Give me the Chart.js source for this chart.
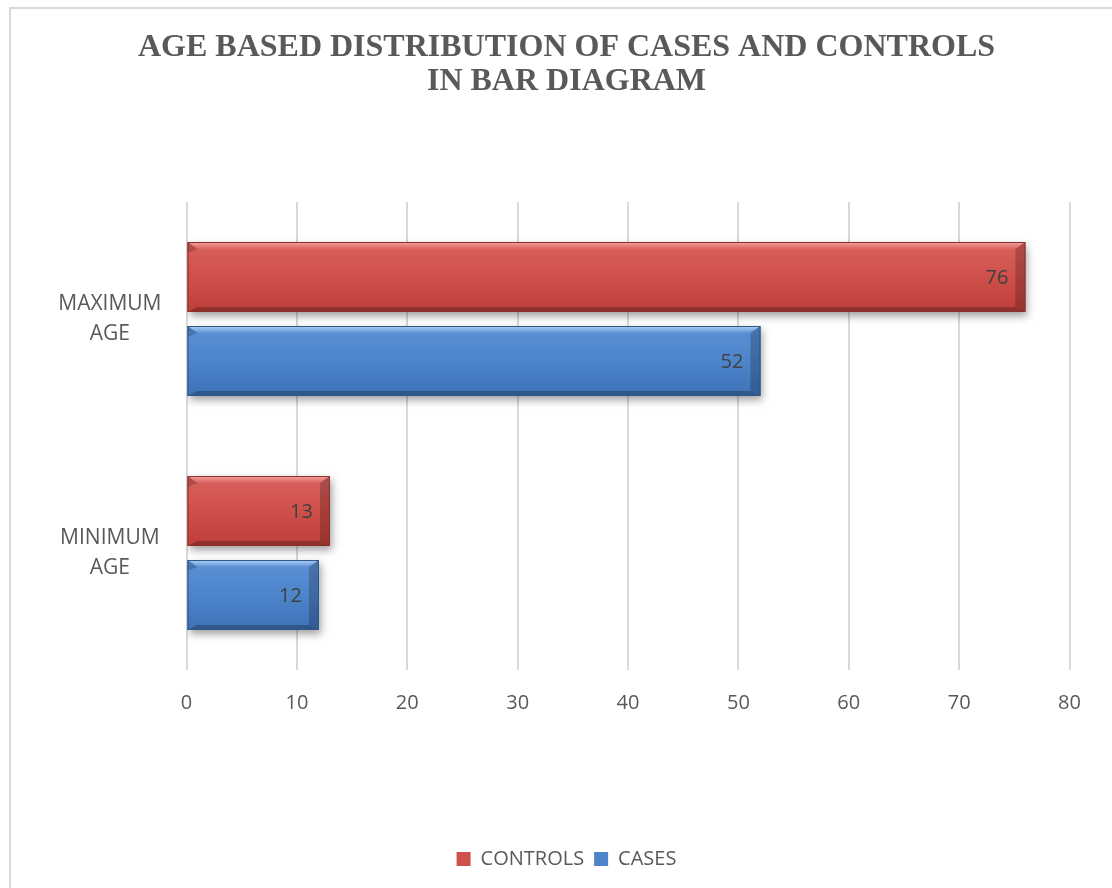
<!DOCTYPE html>
<html>
<head>
<meta charset="utf-8">
<title>Age based distribution</title>
<script src="https://cdn.jsdelivr.net/npm/chart.js@4.4.1/dist/chart.umd.min.js"></script>
<style>
    html, body { margin: 0; padding: 0; background: #fff; overflow: hidden; }
    #box {
        position: absolute;
        left: 9px;
        top: 7px;
        width: 1101px;
        height: 879px;
        border-left: 2px solid #d9d9d9;
        border-top: 2px solid #d9d9d9;
    }
</style>
</head>
<body>
<div id="box"><canvas id="ageChart" width="1101" height="879"></canvas></div>

<script>
// categories (top to bottom) and values
const categories = [['MAXIMUM', 'AGE'], ['MINIMUM', 'AGE']];
const controls = [76, 13];
const cases = [52, 12];
const seriesNames = ['CONTROLS', 'CASES'];
const axisMin = 0;
const axisMax = 80;
const axisStep = 10;

// colours for each series: light top, body, dark bottom
var shades = [
    { light: '#f7a3a0', top: '#d9625e', mid: '#cf4f4a', bottom: '#bd3f3a', edge: '#8c302d' },
    { light: '#b0d3f7', top: '#5c91d5', mid: '#4d84ca', bottom: '#3e72b7', edge: '#2f5688' }
];

var textGray = '#595959';
var sans = '"Open Sans", sans-serif';

// bevelled bars with a soft shadow and the value at the inner end
var bevelBars = {
    id: 'bevelBars',
    beforeDatasetsDraw: function(chart) {
        var ctx = chart.ctx;
        ctx.save();
        ctx.shadowColor = 'rgba(0,0,0,0.38)';
        ctx.shadowBlur = 8;
        ctx.shadowOffsetX = 2;
        ctx.shadowOffsetY = 4;
    },
    afterDatasetsDraw: function(chart) {
        var ctx = chart.ctx;
        ctx.restore();

        chart.data.datasets.forEach(function(ds, i) {
            var meta = chart.getDatasetMeta(i);
            var c = shades[i];
            meta.data.forEach(function(el, j) {
                var p = el.getProps(['x', 'y', 'base', 'height'], true);
                var x0 = Math.min(p.base, p.x), x1 = Math.max(p.base, p.x);
                var y0 = p.y - p.height / 2, y1 = p.y + p.height / 2;
                var bt = 7, bb = 5, bs = 10;

                var g = ctx.createLinearGradient(0, y0, 0, y1);
                g.addColorStop(0, c.top);
                g.addColorStop(0.5, c.mid);
                g.addColorStop(1, c.bottom);
                ctx.fillStyle = g;
                ctx.fillRect(x0, y0, x1 - x0, y1 - y0);

                // top face
                var gt = ctx.createLinearGradient(0, y0, 0, y0 + bt);
                gt.addColorStop(0, c.light);
                gt.addColorStop(1, c.top);
                ctx.fillStyle = gt;
                poly(ctx, [[x0, y0], [x1, y0], [x1 - bs, y0 + bt], [x0 + bs, y0 + bt]]);

                // bottom face
                ctx.fillStyle = 'rgba(0,0,0,0.25)';
                poly(ctx, [[x0, y1], [x1, y1], [x1 - bs, y1 - bb], [x0 + bs, y1 - bb]]);

                // right face
                ctx.fillStyle = 'rgba(0,0,0,0.2)';
                poly(ctx, [[x1, y0], [x1, y1], [x1 - bs, y1 - bb], [x1 - bs, y0 + bt]]);

                // left face, only the corner shows
                ctx.fillStyle = 'rgba(0,0,0,0.18)';
                poly(ctx, [[x0, y0], [x0, y0 + bt + 4], [x0 + bs, y0 + bt]]);

                // outline
                ctx.strokeStyle = c.edge;
                ctx.lineWidth = 1;
                ctx.strokeRect(x0 + 0.5, y0 + 0.5, x1 - x0 - 1, y1 - y0 - 1);

                // value label
                ctx.fillStyle = '#404040';
                ctx.font = '20px ' + sans;
                ctx.textAlign = 'right';
                ctx.textBaseline = 'middle';
                ctx.fillText(ds.data[j], x1 - 17, p.y + 1);
            });
        });
    }
};

function poly(ctx, pts) {
    ctx.beginPath();
    ctx.moveTo(pts[0][0], pts[0][1]);
    for (var k = 1; k < pts.length; k++) {
        ctx.lineTo(pts[k][0], pts[k][1]);
    }
    ctx.closePath();
    ctx.fill();
}

var ctx = document.getElementById('ageChart').getContext('2d');
var chart = new Chart(ctx, {
    type: 'bar',
    data: {
        labels: categories,
        datasets: [{
            label: seriesNames[0],
            data: controls,
            backgroundColor: shades[0].mid,
            borderWidth: 0,
            categoryPercentage: 0.718,
            barPercentage: 0.833
        }, {
            label: seriesNames[1],
            data: cases,
            backgroundColor: shades[1].mid,
            borderWidth: 0,
            categoryPercentage: 0.718,
            barPercentage: 0.833
        }]
    },
    plugins: [bevelBars],
    options: {
        indexAxis: 'y',
        responsive: false,
        animation: false,
        layout: {
            padding: { left: 10, right: 0, top: 0, bottom: 9 }
        },
        scales: {
            x: {
                min: axisMin,
                max: axisMax,
                border: { display: false },
                grid: { color: '#d9d9d9', lineWidth: 2, drawTicks: false },
                ticks: {
                    stepSize: axisStep,
                    padding: 21,
                    color: textGray,
                    font: { family: sans, size: 20 }
                },
                afterFit: function(scale) { scale.height = 169; }
            },
            y: {
                border: { display: false },
                grid: { display: false, drawTicks: false },
                ticks: {
                    crossAlign: 'center',
                    padding: 25,
                    color: textGray,
                    font: { family: sans, size: 21, lineHeight: '30px' }
                },
                afterFit: function(scale) { scale.width = 165.5; }
            },
            // empty strip on the right so the plot ends before the edge
            yRight: {
                type: 'category',
                position: 'right',
                border: { display: false },
                grid: { display: false, drawTicks: false },
                ticks: { display: false },
                afterFit: function(scale) { scale.width = 42.5; }
            }
        },
        plugins: {
            title: {
                display: true,
                text: ['AGE BASED DISTRIBUTION OF CASES AND CONTROLS', 'IN BAR DIAGRAM'],
                color: textGray,
                font: { family: '"Liberation Serif", "Times New Roman", serif', size: 32, weight: 'bold', lineHeight: '34px' },
                padding: { top: 22, bottom: 103 }
            },
            legend: {
                position: 'bottom',
                labels: {
                    boxWidth: 14,
                    boxHeight: 14,
                    padding: 10,
                    color: textGray,
                    font: { family: sans, size: 20 }
                }
            },
            tooltip: { enabled: false }
        }
    }
});
</script>
</body>
</html>
